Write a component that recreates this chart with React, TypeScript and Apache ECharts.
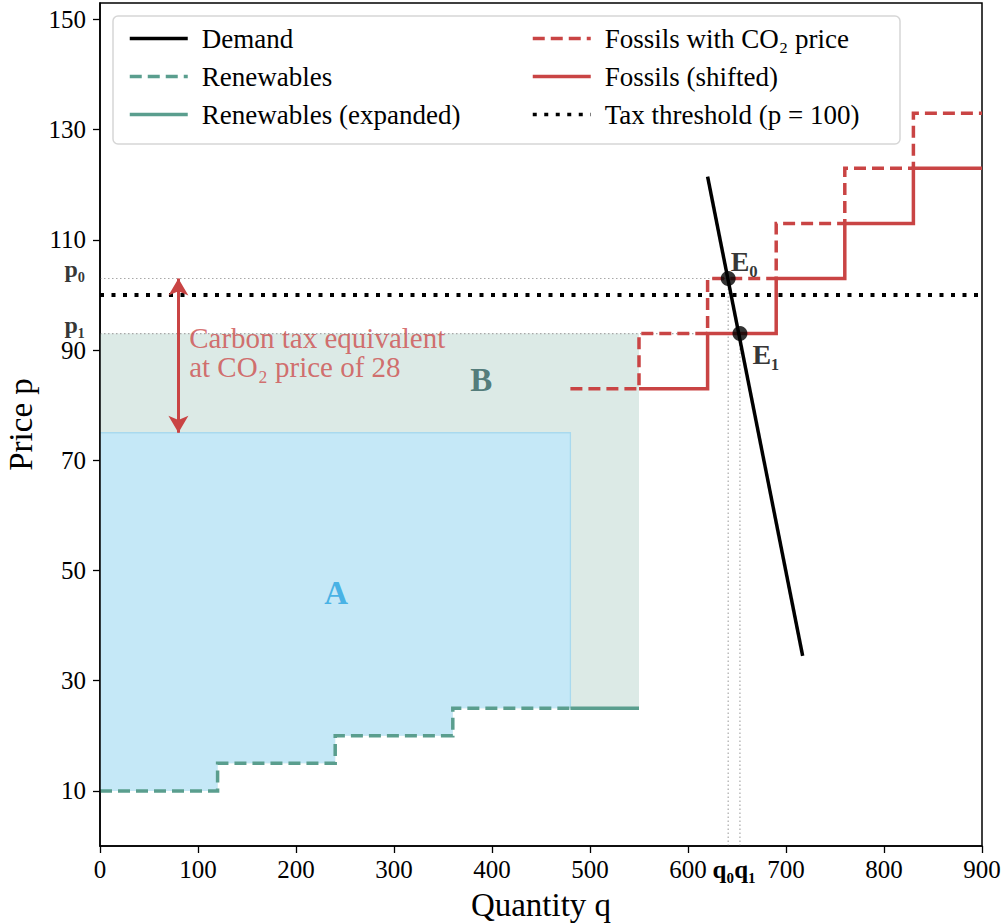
import React, { useEffect, useRef } from "react";
import * as echarts from "echarts";

const FONT = "'Liberation Serif', 'DejaVu Serif', serif";

// ---- data ----
const xTicks = [0, 100, 200, 300, 400, 500, 600, 700, 800, 900];
const yTicks = [10, 30, 50, 70, 90, 110, 130, 150];

const renewStepQ = [0, 120, 240, 360, 480];
const renewStepP = [10, 15, 20, 25];
const renewExpandedQ = [480, 550];
const renewExpandedP = 25;

const fossilCO2Q = [480, 550, 620, 690, 760, 830, 900];
const fossilCO2P = [83, 93, 103, 113, 123, 133];
const fossilShiftQ = [550, 620, 690, 760, 830, 900];
const fossilShiftP = [83, 93, 103, 113, 123];

const demandQ = [620, 717];
const demandP = [121.5, 34.5];

const taxThreshold = 100;
const eqQ = [641, 653]; // q0, q1
const eqP = [103, 93]; // p0, p1
const eqNames = ["E₀", "E₁"];
const priceNames = ["p₀", "p₁"];
const areaATop = 75;
const arrowQ = 80;

const labelAPos = [241, 46];
const labelBPos = [389, 84.5];
const annotPos = [91, 89.5];
const annotText = "Carbon tax equivalent\nat CO₂ price of 28";

// ---- colours ----
const RED = "#c94444";
const TEAL = "#5a9e8e";

function stepPoints(qs: number[], ps: number[]): number[][] {
  const pts: number[][] = [];
  for (let i = 0; i < ps.length; i++) {
    pts.push([qs[i], ps[i]]);
    pts.push([qs[i + 1], ps[i]]);
  }
  return pts;
}

const lineSeries = (name: string, data: any[], color: string, width: number, type: any, extra: any = {}) => ({
  type: "line",
  name,
  data,
  symbol: "none",
  silent: true,
  lineStyle: { color, width, type, cap: "butt", join: "miter" },
  itemStyle: { color },
  z: 3,
  ...extra,
});

export default function App() {
  const ref = useRef<HTMLDivElement>(null);

  useEffect(() => {
    if (!ref.current) return;
    const chart = echarts.init(ref.current, null, { renderer: "svg" });

    const renewPts = stepPoints(renewStepQ, renewStepP);
    const renewRev = [...renewPts].reverse();
    const lastQ = renewStepQ[renewStepQ.length - 1];
    const lastP = renewStepP[renewStepP.length - 1];

    const polyA = [[0, areaATop], [lastQ, areaATop], ...renewRev];
    const edgeA = [[0, areaATop], [lastQ, areaATop], [lastQ, lastP]];
    const polyB = [[0, eqP[1]], [renewExpandedQ[1], eqP[1]], [renewExpandedQ[1], renewExpandedP], ...renewRev];

    const areaSeries = {
      type: "custom",
      silent: true,
      z: 1,
      data: [[0, 0]],
      renderItem: (_params: any, api: any) => {
        const toPx = (pts: number[][]) => pts.map((p) => api.coord(p));
        return {
          type: "group",
          children: [
            { type: "polygon", shape: { points: toPx(polyB) }, style: { fill: "#dceae6", stroke: "none" } },
            { type: "polygon", shape: { points: toPx(polyA) }, style: { fill: "#c5e8f7", stroke: "none" } },
            { type: "polyline", shape: { points: toPx(edgeA) }, style: { fill: "none", stroke: "#a9d9ee", lineWidth: 1.3 } },
          ],
        };
      },
    };

    const guideStyle = { color: "#a8a8a8", width: 1.2, type: [1.5, 2.5] };
    const guides = [
      [[0, eqP[0]], [eqQ[0], eqP[0]]],
      [[eqQ[0], 0], [eqQ[0], eqP[0]]],
      [[0, eqP[1]], [eqQ[1], eqP[1]]],
      [[eqQ[1], 0], [eqQ[1], eqP[1]]],
    ].map((d) => ({
      type: "line",
      data: d,
      symbol: "none",
      silent: true,
      lineStyle: guideStyle,
      z: 2,
    }));

    const legendCommon = {
      orient: "vertical",
      top: 20,
      itemWidth: 58,
      itemHeight: 14,
      itemGap: 11,
      selectedMode: false,
      itemStyle: { opacity: 0, borderWidth: 0 },
      lineStyle: { width: 3.5 },
      textStyle: { fontFamily: FONT, fontSize: 27, color: "#000", padding: [0, 0, 0, 9] },
    };

    const option: any = {
      animation: false,
      grid: {
        left: 100,
        right: 24,
        top: 3,
        bottom: 78,
        show: true,
        borderColor: "#000",
        borderWidth: 1.5,
        outerBoundsMode: "none",
      },
      xAxis: {
        type: "value",
        min: 0,
        max: 900,
        interval: 100,
        z: 6,
        name: "Quantity q",
        nameLocation: "middle",
        nameGap: 42,
        nameTextStyle: { fontFamily: FONT, fontSize: 33, color: "#000" },
        splitLine: { show: false },
        axisLine: { show: true, onZero: false, lineStyle: { color: "#000", width: 1.5 } },
        axisTick: { show: true, length: 7, customValues: xTicks, lineStyle: { color: "#000", width: 1.3 } },
        axisLabel: {
          customValues: [...xTicks, ...eqQ],
          fontFamily: FONT,
          fontSize: 25,
          color: "#000",
          margin: 11,
          formatter: (v: number) =>
            v === eqQ[0] ? "{q0|q₀}" : v === eqQ[1] ? "{q1|q₁}" : String(v),
          rich: {
            q0: { fontFamily: FONT, fontSize: 25, fontWeight: "bold", color: "#000", padding: [0, 10, 0, 0] },
            q1: { fontFamily: FONT, fontSize: 25, fontWeight: "bold", color: "#000", padding: [0, 0, 0, 10] },
          },
        },
      },
      yAxis: {
        type: "value",
        min: 0,
        max: 153,
        z: 6,
        name: "Price p",
        nameLocation: "middle",
        nameGap: 60,
        nameTextStyle: { fontFamily: FONT, fontSize: 33, color: "#000" },
        splitLine: { show: false },
        axisLine: { show: true, onZero: false, lineStyle: { color: "#000", width: 1.5 } },
        axisTick: { show: true, length: 7, customValues: yTicks, lineStyle: { color: "#000", width: 1.3 } },
        axisLabel: {
          customValues: yTicks,
          fontFamily: FONT,
          fontSize: 25,
          color: "#000",
          margin: 14,
        },
      },
      legend: [
        { ...legendCommon, left: 123, data: ["Demand", "Renewables", "Renewables (expanded)"] },
        { ...legendCommon, left: 526, data: ["Fossils with CO₂ price", "Fossils (shifted)", "Tax threshold (p = 100)"] },
      ],
      graphic: [
        {
          type: "rect",
          z: 3,
          shape: { x: 113, y: 16, width: 787, height: 128, r: 5 },
          style: { fill: "rgba(255,255,255,0.85)", stroke: "#d6d6d6", lineWidth: 1.5 },
        },
      ],
      series: [
        areaSeries,
        ...guides,
        lineSeries("Tax threshold (p = 100)", [[0, taxThreshold], [900, taxThreshold]], "#000", 4, [4, 7.5]),
        lineSeries("Renewables", renewPts, TEAL, 3.5, [12, 6]),
        lineSeries("Renewables (expanded)", renewExpandedQ.map((q) => [q, renewExpandedP]), TEAL, 3.5, "solid"),
        lineSeries("Fossils with CO₂ price", stepPoints(fossilCO2Q, fossilCO2P), RED, 3.5, [12, 6]),
        lineSeries("Fossils (shifted)", stepPoints(fossilShiftQ, fossilShiftP), RED, 3.5, "solid"),
        lineSeries("Demand", demandQ.map((q, i) => [q, demandP[i]]), "#000", 3.5, "solid", { z: 4 }),
        {
          type: "scatter",
          name: "Equilibria",
          data: eqQ.map((q, i) => ({
            value: [q, eqP[i]],
            label: {
              show: true,
              formatter: eqNames[i],
              position: "right",
              distance: 0,
              offset: i === 0 ? [-5, -17] : [5, 21],
              fontFamily: FONT,
              fontSize: 28,
              fontWeight: "bold",
              color: "#000",
            },
          })),
          symbol: "circle",
          symbolSize: 15,
          itemStyle: { color: "#000" },
          silent: true,
          z: 5,
        },
        {
          type: "scatter",
          name: "PriceLabels",
          symbolSize: 0,
          silent: true,
          z: 6,
          data: eqP.map((p, i) => ({
            value: [0, p],
            label: {
              show: true,
              formatter: priceNames[i],
              position: "left",
              distance: 15,
              offset: [0, -9],
              fontFamily: FONT,
              fontSize: 24,
              fontWeight: "bold",
              color: "#000",
            },
          })),
        },
        {
          type: "scatter",
          name: "Annotations",
          symbolSize: 0,
          silent: true,
          z: 5,
          data: [
            {
              value: labelAPos,
              label: { show: true, formatter: "A", position: "inside", fontFamily: FONT, fontSize: 33, fontWeight: "bold", color: "#27a4e0" },
            },
            {
              value: labelBPos,
              label: { show: true, formatter: "B", position: "inside", fontFamily: FONT, fontSize: 33, fontWeight: "bold", color: "#2e5f5e" },
            },
            {
              value: annotPos,
              label: {
                show: true,
                formatter: annotText,
                position: "right",
                distance: 0,
                align: "left",
                fontFamily: FONT,
                fontSize: 29,
                lineHeight: 29,
                color: "#cd4d4d",
              },
            },
          ],
          markLine: {
            silent: true,
            symbol: ["arrow", "arrow"],
            symbolSize: [15, 17],
            label: { show: false },
            lineStyle: { color: RED, width: 3, type: "solid" },
            itemStyle: { color: RED },
            emphasis: { disabled: true },
            data: [[{ coord: [arrowQ, areaATop] }, { coord: [arrowQ, eqP[0]] }]],
          },
        },
      ],
    };

    chart.setOption(option);
    return () => chart.dispose();
  }, []);

  return <div ref={ref} style={{ position: "fixed", left: 0, top: 0, width: 1006, height: 924, background: "#fff" }} />;
}
